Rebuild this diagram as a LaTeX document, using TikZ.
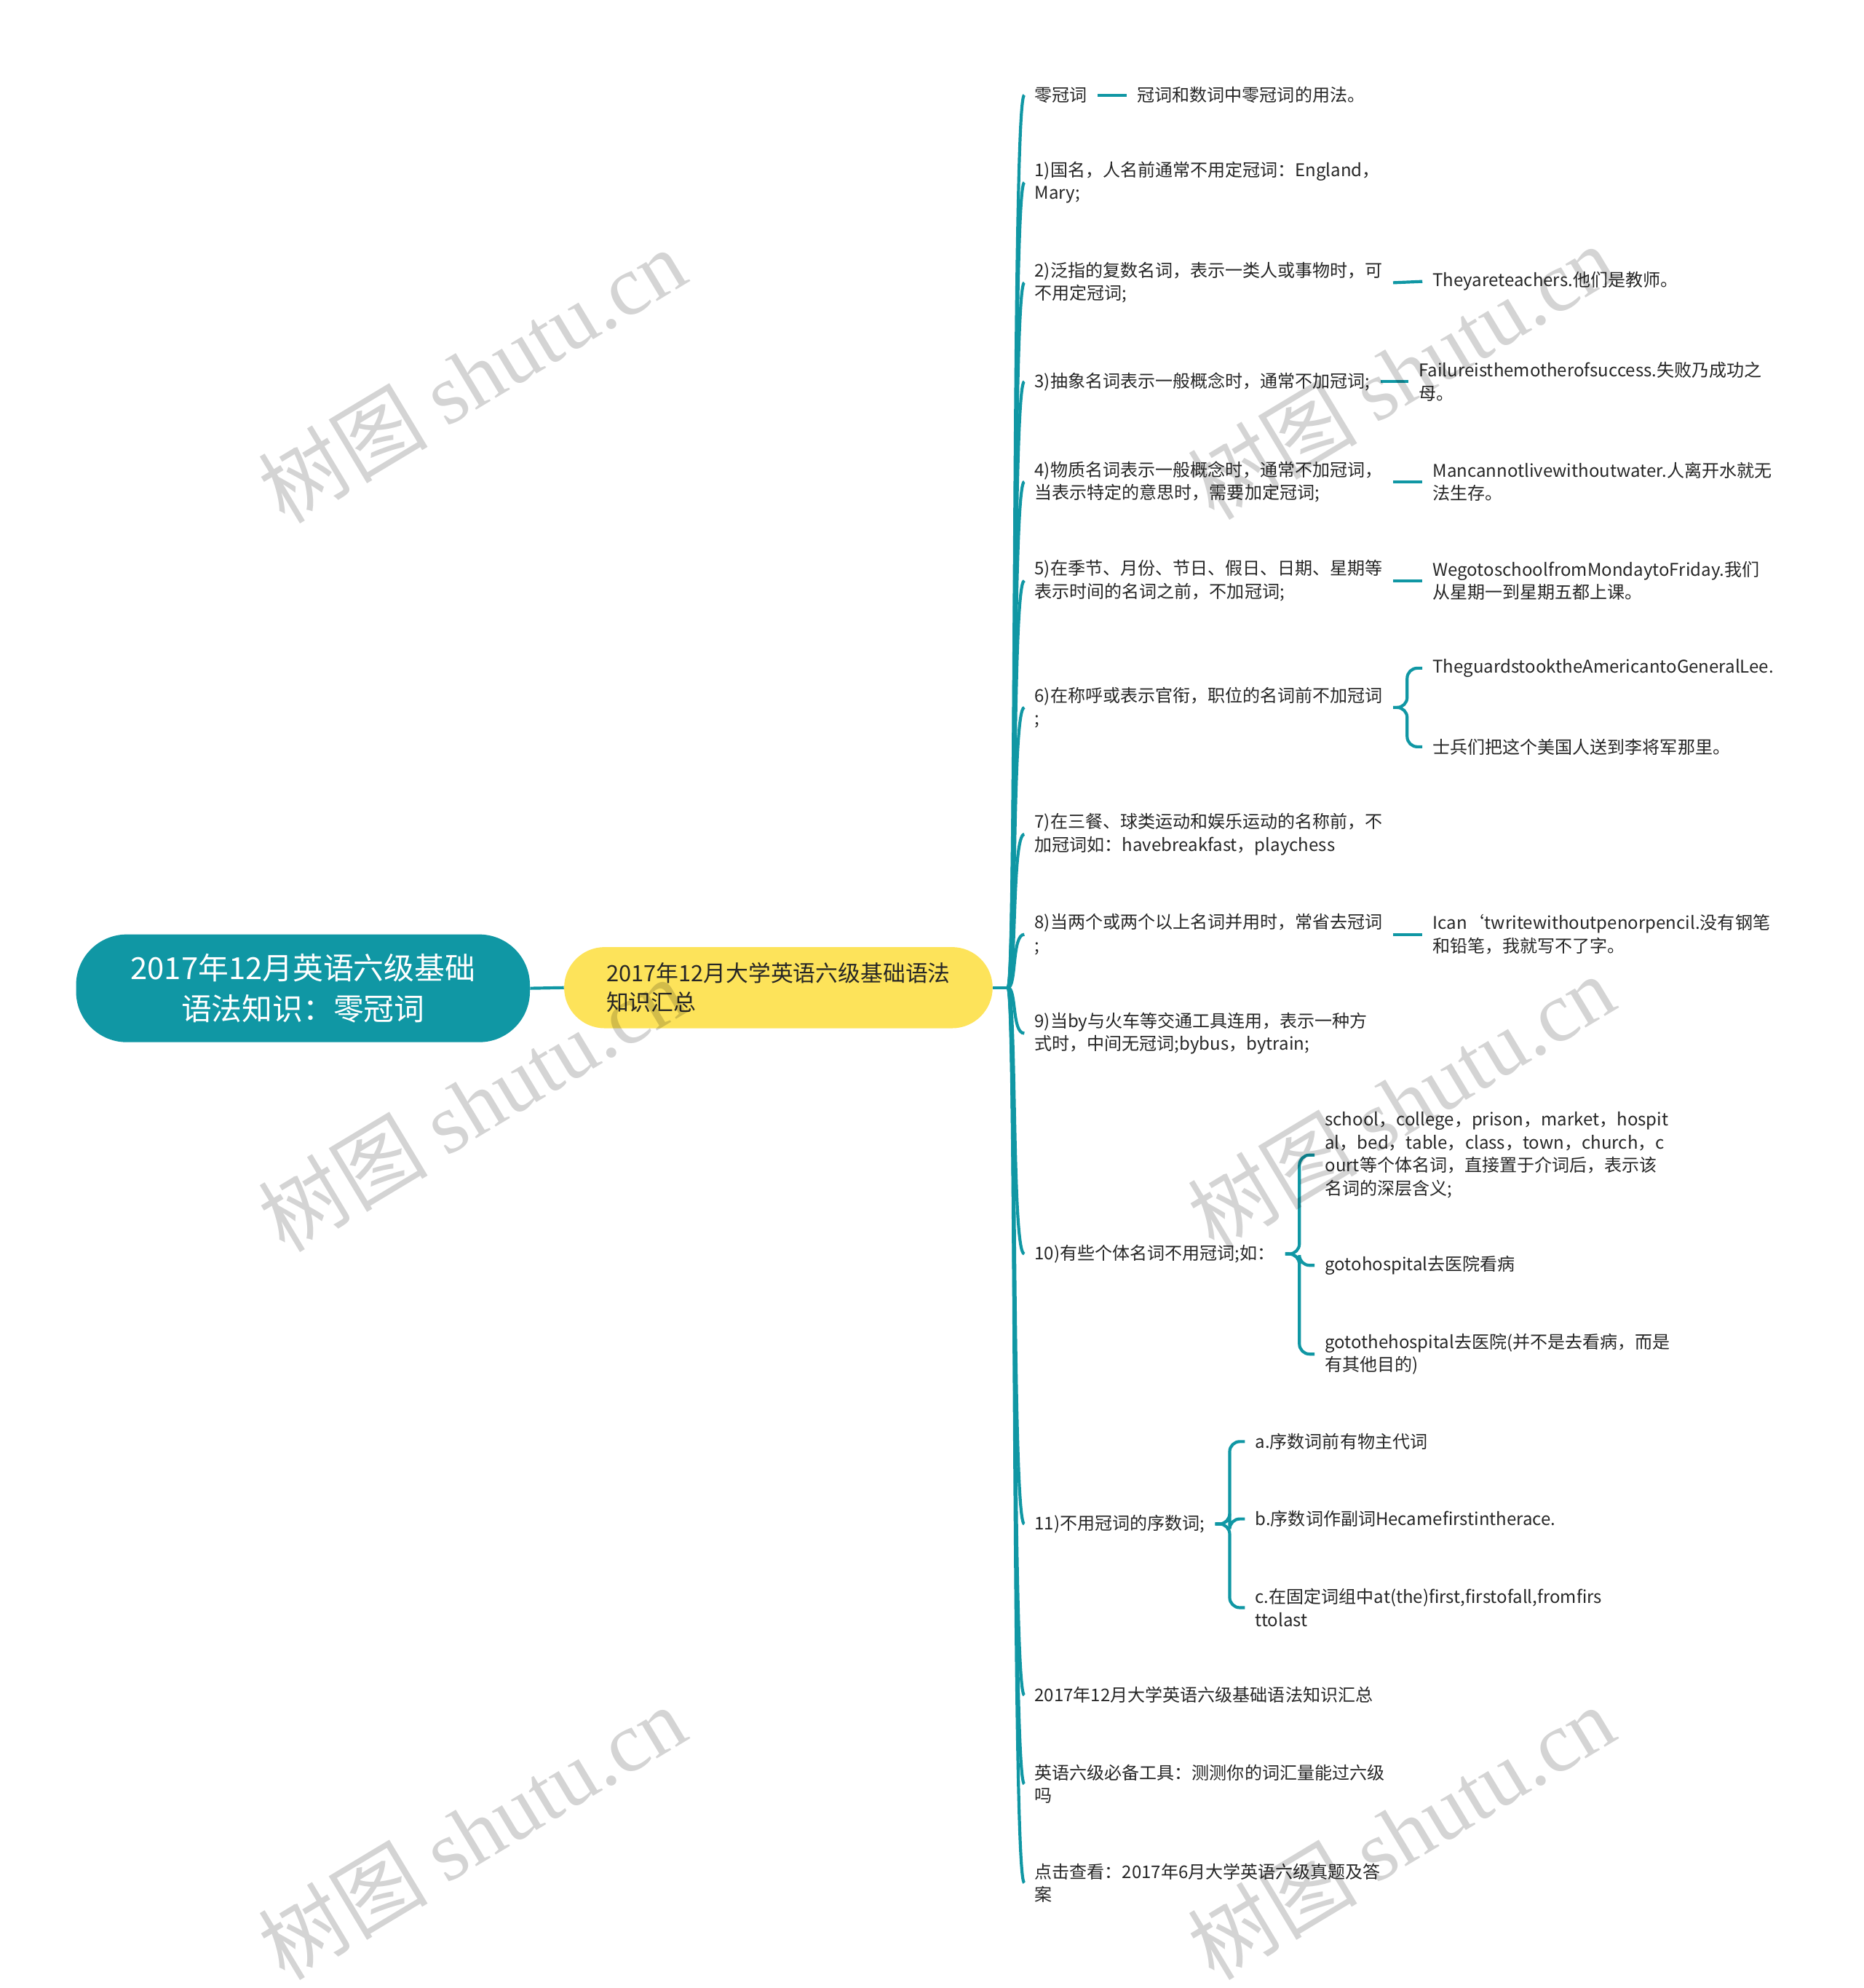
\documentclass[tikz,border=0pt]{standalone}
\usepackage{fontspec}
\setmainfont{Noto Sans CJK SC}
\newfontfamily\wmfont{Liberation Serif}
\usetikzlibrary{calc}
\definecolor{MapTeal}{HTML}{1097A4}
\definecolor{MapYellow}{HTML}{FDE35A}
\definecolor{MapInk}{HTML}{262626}

\begin{document}
\begin{tikzpicture}[x=1pt,y=-1pt,
    every node/.style={font=\fontsize{13.8}{18}\selectfont, text=MapInk},
    rootbox/.style={fill=MapTeal, text=white, rounded corners=40, minimum width=358, minimum height=85,
      align=center, font=\fontsize{24}{32}\selectfont},
    subbox/.style={fill=MapYellow, rounded corners=32, minimum width=338, minimum height=64,
      inner xsep=31, align=left, font=\fontsize{17.7}{23}\selectfont},
    topic/.style={anchor=west, align=left, inner xsep=8, inner ysep=2},
    branch/.style={draw=MapTeal, line width=2.4},
    wmark/.style={rotate=31, text=black, text opacity=0.17, font=\fontsize{67}{67}\selectfont}]
  \useasboundingbox (0,0) rectangle (1470,1568);

  % centre of the map
  \node[rootbox] (root) at (239,779.5) {2017年12月英语六级基础\\语法知识：零冠词};
  \node[subbox] (sum) at (614,779) {2017年12月大学英语六级基础语法\\知识汇总};
  \coordinate (hub) at (795,779);
  \draw[branch] (root.east) -- (sum.west);
  \draw[branch] (sum.east) -- (hub);

  % first level
  \node[topic] (c0) at (808,75) {零冠词};
  \node[topic] (c1) at (808,144) {1)国名，人名前通常不用定冠词：England，\\Mary;};
  \node[topic] (c2) at (808,223) {2)泛指的复数名词，表示一类人或事物时，可\\不用定冠词;};
  \node[topic] (c3) at (808,301) {3)抽象名词表示一般概念时，通常不加冠词;};
  \node[topic] (c4) at (808,380) {4)物质名词表示一般概念时，通常不加冠词，\\当表示特定的意思时，需要加定冠词;};
  \node[topic] (c5) at (808,458) {5)在季节、月份、节日、假日、日期、星期等\\表示时间的名词之前，不加冠词;};
  \node[topic] (c6) at (808,558) {6)在称呼或表示官衔，职位的名词前不加冠词\\;};
  \node[topic] (c7) at (808,658) {7)在三餐、球类运动和娱乐运动的名称前，不\\加冠词如：havebreakfast，playchess};
  \node[topic] (c8) at (808,737) {8)当两个或两个以上名词并用时，常省去冠词\\;};
  \node[topic] (c9) at (808,815) {9)当by与火车等交通工具连用，表示一种方\\式时，中间无冠词;bybus，bytrain;};
  \node[topic] (c10) at (808,989) {10)有些个体名词不用冠词;如：};
  \node[topic] (c11) at (808,1202) {11)不用冠词的序数词;};
  \node[topic] (c12) at (808,1337) {2017年12月大学英语六级基础语法知识汇总};
  \node[topic] (c13) at (808,1407) {英语六级必备工具：测测你的词汇量能过六级\\吗};
  \node[topic] (c14) at (808,1485) {点击查看：2017年6月大学英语六级真题及答\\案};

  \foreach \c in {c0,c1,c2,c3,c4,c5,c6,c7,c8,c9,c10,c11,c12,c13,c14}
    \draw[branch] (hub) .. controls +(7,0) and +(-10,0) .. (\c.west);

  % second level
  \node[topic] (g0) at (889,75) {冠词和数词中零冠词的用法。};
  \node[topic] (g2) at (1122,222) {Theyareteachers.他们是教师。};
  \node[topic] (g3) at (1111,301) {Failureisthemotherofsuccess.失败乃成功之\\母。};
  \node[topic] (g4) at (1122,380) {Mancannotlivewithoutwater.人离开水就无\\法生存。};
  \node[topic] (g5) at (1122,458) {WegotoschoolfromMondaytoFriday.我们\\从星期一到星期五都上课。};
  \node[topic] (g6a) at (1122,527) {TheguardstooktheAmericantoGeneralLee.};
  \node[topic] (g6b) at (1122,589) {士兵们把这个美国人送到李将军那里。};
  \node[topic] (g8) at (1122,737) {Ican‘twritewithoutpenorpencil.没有钢笔\\和铅笔，我就写不了字。};
  \node[topic] (g10a) at (1037,911) {school，college，prison，market，hospit\\al，bed，table，class，town，church，c\\ourt等个体名词，直接置于介词后，表示该\\名词的深层含义;};
  \node[topic] (g10b) at (1037,998) {gotohospital去医院看病};
  \node[topic] (g10c) at (1037,1068) {gotothehospital去医院(并不是去看病，而是\\有其他目的)};
  \node[topic] (g11a) at (982,1137) {a.序数词前有物主代词};
  \node[topic] (g11b) at (982,1198) {b.序数词作副词Hecamefirstintherace.};
  \node[topic] (g11c) at (982,1268) {c.在固定词组中at(the)first,firstofall,fromfirs\\ttolast};

  \draw[branch] (c0.east) -- (g0.west);
  \draw[branch] (c2.east) -- (g2.west);
  \draw[branch] (c3.east) -- (g3.west);
  \draw[branch] (c4.east) -- (g4.west);
  \draw[branch] (c5.east) -- (g5.west);
  \draw[branch] (c8.east) -- (g8.west);
  \foreach \p/\g in {c6/g6a,c6/g6b,c10/g10a,c10/g10b,c10/g10c,c11/g11a,c11/g11b,c11/g11c}
    \draw[branch, rounded corners=8] (\p.east) -| ($(\g.west)+(-12,0)$) -- (\g.west);

  % watermark
  \node[wmark] (wm1) at (372,296) {树图 {\wmfont shutu.cn}};
  \node[wmark] (wm2) at (372,871) {树图 {\wmfont shutu.cn}};
  \node[wmark] (wm3) at (372,1445) {树图 {\wmfont shutu.cn}};
  \node[wmark] (wm4) at (1105,293) {树图 {\wmfont shutu.cn}};
  \node[wmark] (wm5) at (1105,869) {树图 {\wmfont shutu.cn}};
  \node[wmark] (wm6) at (1105,1445) {树图 {\wmfont shutu.cn}};
\end{tikzpicture}
\end{document}
